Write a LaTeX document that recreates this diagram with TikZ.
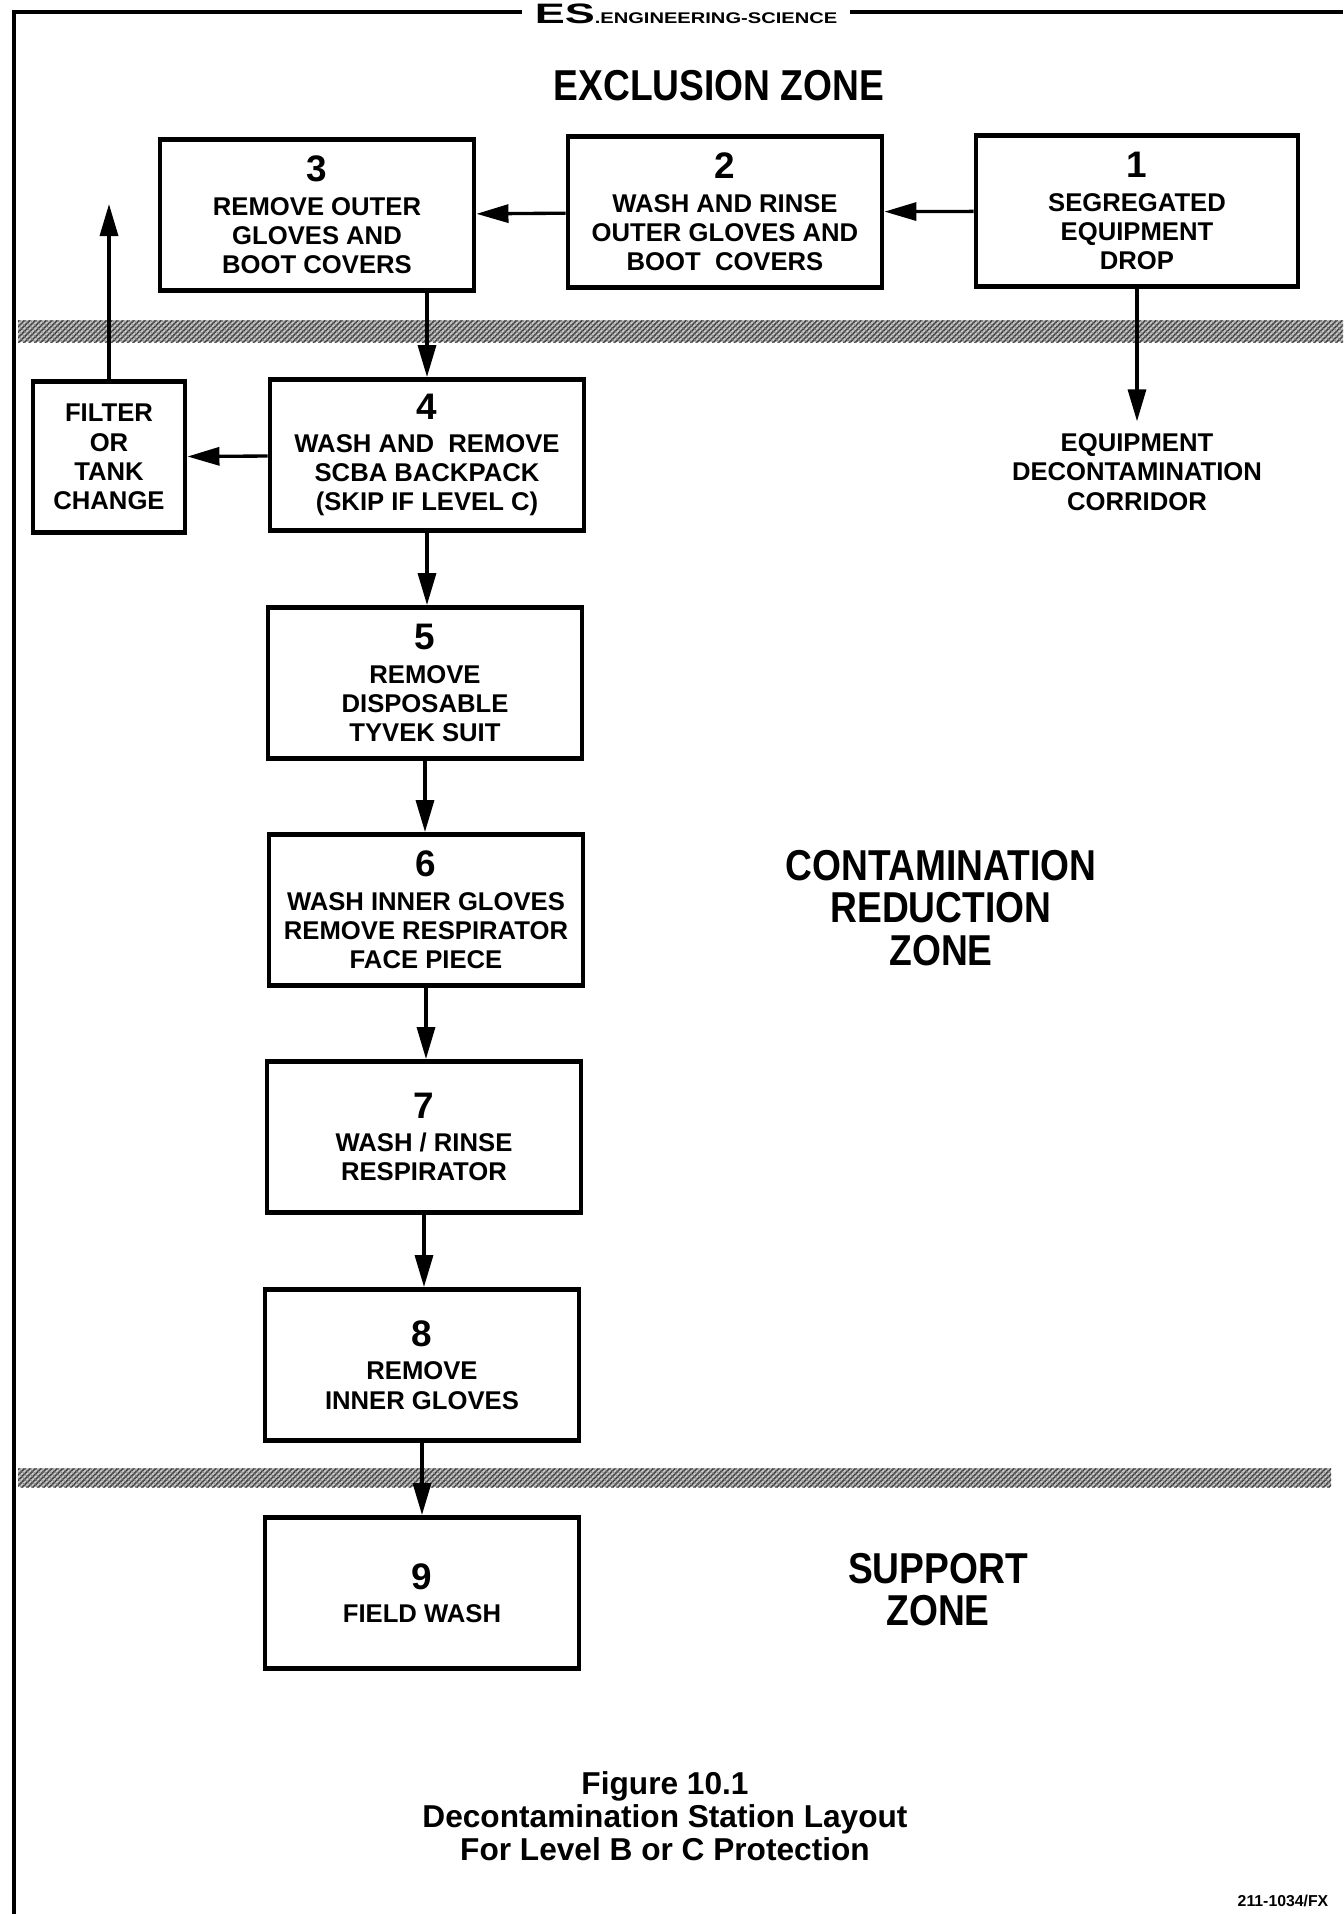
\documentclass[tikz,border=0pt]{standalone}
\usepackage{fontspec}
\setmainfont{Liberation Sans}
\newfontfamily\condfont{Liberation Sans}[FakeStretch=0.86]
\newfontfamily\widefont{Liberation Sans}[FakeStretch=1.3]
\newfontfamily\logofont{Liberation Sans}[FakeStretch=1.6]
\usepackage{tikz}
\usetikzlibrary{arrows.meta, patterns.meta}

\newcommand{\stepno}[1]{{\fontsize{10.5}{12}\selectfont #1}\\[1.2pt]}

\begin{document}
\begin{tikzpicture}[x=0.1mm, y=-0.1mm,
    stepbox/.style={draw, line width=1.4pt, minimum width=31.4mm, minimum height=15.1mm,
        align=center, inner sep=1mm, font=\bfseries\fontsize{7.3}{8.3}\selectfont},
    flow/.style={-{Triangle[length=3.2mm, width=1.8mm]}, line width=0.95pt},
    zonelabel/.style={align=center, font=\condfont\bfseries\fontsize{12.3}{12}\selectfont},
    hatchbar/.style={fill=gray!45,
        postaction={pattern={Lines[angle=45, distance=1.1pt, line width=0.45pt]}, pattern color=black!75},
        postaction={pattern={Lines[angle=-45, distance=1.1pt, line width=0.2pt]}, pattern color=black!50}},
    frame/.style={line width=0.9pt}]
    \useasboundingbox (0,0) rectangle (1343,1914);
    % header and frame
    \node[anchor=base, inner sep=1.2mm] (logo) at (686,23)
        {{\logofont\bfseries\fontsize{8}{9}\selectfont ES}{\widefont\bfseries\fontsize{4.4}{5}\selectfont .ENGINEERING-SCIENCE}};
    \coordinate (hdr) at (14,12);
    \draw[frame] (14,1914) -- (hdr) -- (hdr -| logo.west);
    \draw[frame] (hdr -| logo.east) -- (1343,12);
    % zone boundaries
    \path[hatchbar] (18,320) rectangle (1343,342);
    \path[hatchbar] (18,1468) rectangle (1331,1487);
    % zones
    \node[zonelabel] (excl) at (719,86) {EXCLUSION ZONE};
    \node[zonelabel] (crz) at (941,908) {CONTAMINATION\\REDUCTION\\ZONE};
    \node[zonelabel] (supz) at (938,1590) {SUPPORT\\ZONE};
    % stations
    \node[stepbox, minimum width=32.2mm] (s1) at (1137,211) {\stepno{1}SEGREGATED\\EQUIPMENT\\DROP};
    \node[stepbox] (s2) at (725,212) {\stepno{2}WASH AND RINSE\\OUTER GLOVES AND\\BOOT~ COVERS};
    \node[stepbox] (s3) at (317,215) {\stepno{3}REMOVE OUTER\\GLOVES AND\\BOOT COVERS};
    \node[stepbox] (s4) at (427,455) {\stepno{4}WASH AND~ REMOVE\\SCBA BACKPACK\\(SKIP IF LEVEL C)};
    \node[stepbox, minimum width=15.2mm] (filter) at (109,457) {FILTER\\OR\\TANK\\CHANGE};
    \node[stepbox] (s5) at (425,683) {\stepno{5}REMOVE\\DISPOSABLE\\TYVEK SUIT};
    \node[stepbox] (s6) at (426,910) {\stepno{6}WASH INNER GLOVES\\REMOVE RESPIRATOR\\FACE PIECE};
    \node[stepbox] (s7) at (424,1137) {\stepno{7}WASH / RINSE\\RESPIRATOR};
    \node[stepbox] (s8) at (422,1365) {\stepno{8}REMOVE\\INNER GLOVES};
    \node[stepbox] (s9) at (422,1593) {\stepno{9}FIELD WASH};
    \node[align=center, font=\bfseries\fontsize{7.3}{8.3}\selectfont] (corr) at (1137,472)
        {EQUIPMENT\\DECONTAMINATION\\CORRIDOR};
    \coordinate (out) at (110,204);
    % flow
    \draw[flow] (s1) -- (s2);
    \draw[flow] (s2) -- (s3);
    \draw[flow] (s3.south -| s4.north) -- (s4.north);
    \draw[flow] (s1.south) -- (corr.north);
    \draw[flow] (s4) -- (filter);
    \draw[flow] (filter.north) -- (filter.north |- out);
    \draw[flow] (s4.south) -- (s4.south |- s5.north);
    \draw[flow] (s5.south) -- (s5.south |- s6.north);
    \draw[flow] (s6.south) -- (s6.south |- s7.north);
    \draw[flow] (s7.south) -- (s7.south |- s8.north);
    \draw[flow] (s8.south) -- (s8.south |- s9.north);
    % caption
    \node[align=center, font=\bfseries\fontsize{9}{9.4}\selectfont] (cap) at (665,1816)
        {Figure 10.1\\Decontamination Station Layout\\For Level B or C Protection};
    \node[font=\bfseries\fontsize{4.5}{5}\selectfont] (code) at (1283,1901) {211-1034/FX};
\end{tikzpicture}
\end{document}
